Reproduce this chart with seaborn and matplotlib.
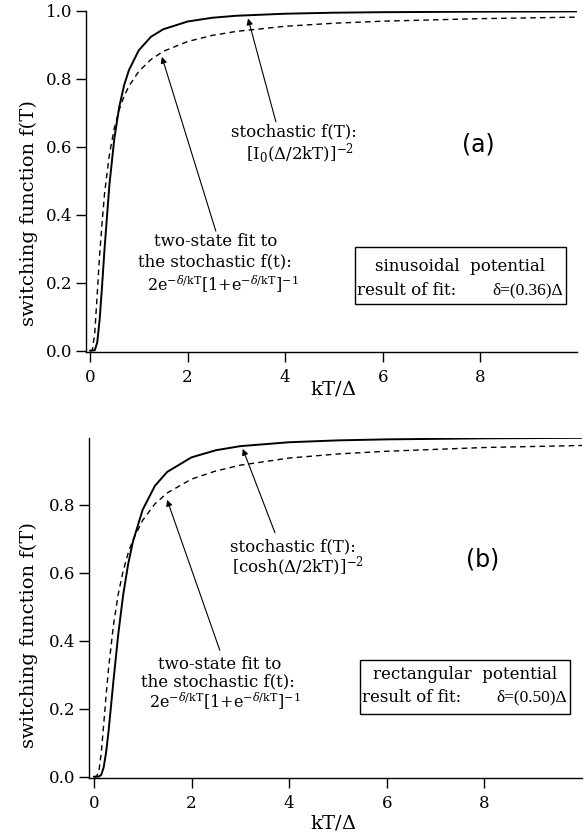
import matplotlib
matplotlib.use("Agg")
import matplotlib.pyplot as plt
import seaborn as sns
import pandas as pd
from matplotlib.patches import Rectangle

# ---- data ----
x_vals = [0.0, 0.05, 0.1, 0.15, 0.2, 0.25, 0.3, 0.4, 0.5, 0.6, 0.7, 0.8, 1.0,
          1.25, 1.5, 2.0, 2.5, 3.0, 4.0, 5.0, 6.0, 8.0, 10.0]

# panel (a): sinusoidal potential
a_stoch = [0.0, 0.0, 0.0014, 0.024, 0.092, 0.192, 0.300, 0.489, 0.624, 0.717, 0.781,
           0.826, 0.884, 0.924, 0.946, 0.969, 0.980, 0.986, 0.992, 0.995, 0.9965,
           0.998, 0.9988]
a_fit = [0.0, 0.0015, 0.053, 0.166, 0.284, 0.377, 0.463, 0.578, 0.655, 0.709, 0.749,
         0.779, 0.822, 0.857, 0.881, 0.910, 0.928, 0.940, 0.955, 0.964, 0.970,
         0.9775, 0.982]

# panel (b): rectangular potential
b_stoch = [0.0, 0.0, 0.0002, 0.005, 0.027, 0.071, 0.133, 0.281, 0.420, 0.535, 0.624,
           0.692, 0.786, 0.856, 0.897, 0.940, 0.961, 0.973, 0.9845, 0.990, 0.993,
           0.996, 0.9975]
b_fit = [0.0, 0.0001, 0.013, 0.069, 0.152, 0.238, 0.318, 0.445, 0.538, 0.606, 0.657,
         0.697, 0.755, 0.803, 0.835, 0.876, 0.900, 0.917, 0.938, 0.950, 0.958,
         0.969, 0.975]

x_ticks = [0, 2, 4, 6, 8]
y_ticks_a = [0.0, 0.2, 0.4, 0.6, 0.8, 1.0]
y_ticks_b = [0.0, 0.2, 0.4, 0.6, 0.8]

sns.set_style("ticks")
plt.rcParams['font.family'] = ['DejaVu Serif']
plt.rcParams['mathtext.fontset'] = 'dejavuserif'
plt.rcParams['text.color'] = 'black'
plt.rcParams['axes.labelcolor'] = 'black'
plt.rcParams['xtick.color'] = 'black'
plt.rcParams['ytick.color'] = 'black'

fig = plt.figure(figsize=(5.84, 8.36), dpi=100)
ax_a = fig.add_axes([86/584, 1-352/836, (577-86)/584, (352-11)/836])
ax_b = fig.add_axes([89/584, 1-778/836, (582-89)/584, (778-438)/836])

def make_df(stoch, fit):
    return pd.DataFrame({
        "x": x_vals * 2,
        "y": stoch + fit,
        "curve": ["stochastic"] * len(x_vals) + ["fit"] * len(x_vals),
    })

for ax, st, ft, yt, xl, yl in [
        (ax_a, a_stoch, a_fit, y_ticks_a, (-0.08, 9.98), (-0.004, 1.0)),
        (ax_b, b_stoch, b_fit, y_ticks_b, (-0.10, 10.0), (-0.004, 0.997))]:
    df = make_df(st, ft)
    sns.lineplot(data=df[df.curve == "stochastic"], x="x", y="y", ax=ax,
                 color="black", lw=1.4, estimator=None, sort=False)
    sns.lineplot(data=df[df.curve == "fit"], x="x", y="y", ax=ax,
                 color="black", lw=1.0, estimator=None, sort=False,
                 dashes=False, linestyle=(0, (4, 3)))
    ax.set_xlim(*xl)
    ax.set_ylim(*yl)
    ax.set_xticks(x_ticks)
    ax.set_yticks(yt)
    ax.set_yticklabels([f"{v:.1f}" for v in yt])
    ax.tick_params(direction="out", length=7, width=1, labelsize=12, pad=3)
    ax.tick_params(axis="x", pad=5)
    sns.despine(ax=ax)
    for s in ("left", "bottom"):
        ax.spines[s].set_linewidth(1.0)
        ax.spines[s].set_color("black")
    ax.set_xlabel(r"kT/$\Delta$", fontsize=14)
    ax.set_ylabel("switching function f(T)", fontsize=14)

ax_a.xaxis.set_label_coords((333-86)/491, -(380-352)/341)
ax_b.xaxis.set_label_coords((333-89)/493, -(814-778)/340)
ax_a.yaxis.set_label_coords(-(86-38)/491, (352-213)/341)
ax_b.yaxis.set_label_coords(-(89-38)/493, (778-635)/340)

tsize = 12
arrow = dict(arrowstyle="-|>", color="black", lw=0.8, mutation_scale=9,
             shrinkA=0, shrinkB=0)
fit_formula = r"2e$^{-\delta/\mathrm{kT}}$[1+e$^{-\delta/\mathrm{kT}}$]$^{-1}$"

# ---- panel (a) annotations ----
ax_a.annotate("", xy=(3.24, 0.978), xytext=(3.81, 0.674), arrowprops=arrow)
ax_a.annotate("", xy=(1.475, 0.865), xytext=(2.58, 0.352), arrowprops=arrow)
ax_a.text(4.18, 0.645, "stochastic f(T):", ha="center", va="center", fontsize=tsize)
ax_a.text(4.30, 0.578, r"[I$_0$($\Delta$/2kT)]$^{-2}$", ha="center", va="center", fontsize=tsize)
ax_a.text(7.95, 0.607, "(a)", ha="center", va="center", fontsize=17, family="DejaVu Sans")
ax_a.text(2.58, 0.320, "two-state fit to", ha="center", va="center", fontsize=tsize)
ax_a.text(2.56, 0.261, "the stochastic f(t):", ha="center", va="center", fontsize=tsize)
ax_a.text(2.73, 0.196, fit_formula, ha="center", va="center", fontsize=11.5)
ax_a.add_patch(Rectangle((5.43, 0.138), 9.75 - 5.43, 0.305 - 0.138, fill=False,
                         lw=1.0, edgecolor="black"))
ax_a.text(7.59, 0.249, "sinusoidal  potential", ha="center", va="center", fontsize=tsize)
ax_a.text(5.47, 0.176, "result of fit:", ha="left", va="center", fontsize=tsize)
ax_a.text(9.70, 0.176, "δ=(0.36)Δ", ha="right", va="center",
          fontsize=12.5, family="Liberation Serif")

# ---- panel (b) annotations ----
ax_b.annotate("", xy=(3.05, 0.965), xytext=(3.71, 0.718), arrowprops=arrow)
ax_b.annotate("", xy=(1.50, 0.815), xytext=(2.58, 0.372), arrowprops=arrow)
ax_b.text(4.08, 0.677, "stochastic f(T):", ha="center", va="center", fontsize=tsize)
ax_b.text(4.18, 0.616, r"[cosh($\Delta$/2kT)]$^{-2}$", ha="center", va="center", fontsize=tsize)
ax_b.text(7.97, 0.639, "(b)", ha="center", va="center", fontsize=17, family="DejaVu Sans")
ax_b.text(2.58, 0.331, "two-state fit to", ha="center", va="center", fontsize=tsize)
ax_b.text(2.54, 0.279, "the stochastic f(t):", ha="center", va="center", fontsize=tsize)
ax_b.text(2.68, 0.220, fit_formula, ha="center", va="center", fontsize=11.5)
ax_b.add_patch(Rectangle((5.45, 0.185), 9.75 - 5.45, 0.342 - 0.185, fill=False,
                         lw=1.0, edgecolor="black"))
ax_b.text(7.60, 0.300, "rectangular  potential", ha="center", va="center", fontsize=tsize)
ax_b.text(5.49, 0.232, "result of fit:", ha="left", va="center", fontsize=tsize)
ax_b.text(9.70, 0.232, "δ=(0.50)Δ", ha="right", va="center",
          fontsize=12.5, family="Liberation Serif")

fig.savefig("out.png", dpi=100)
